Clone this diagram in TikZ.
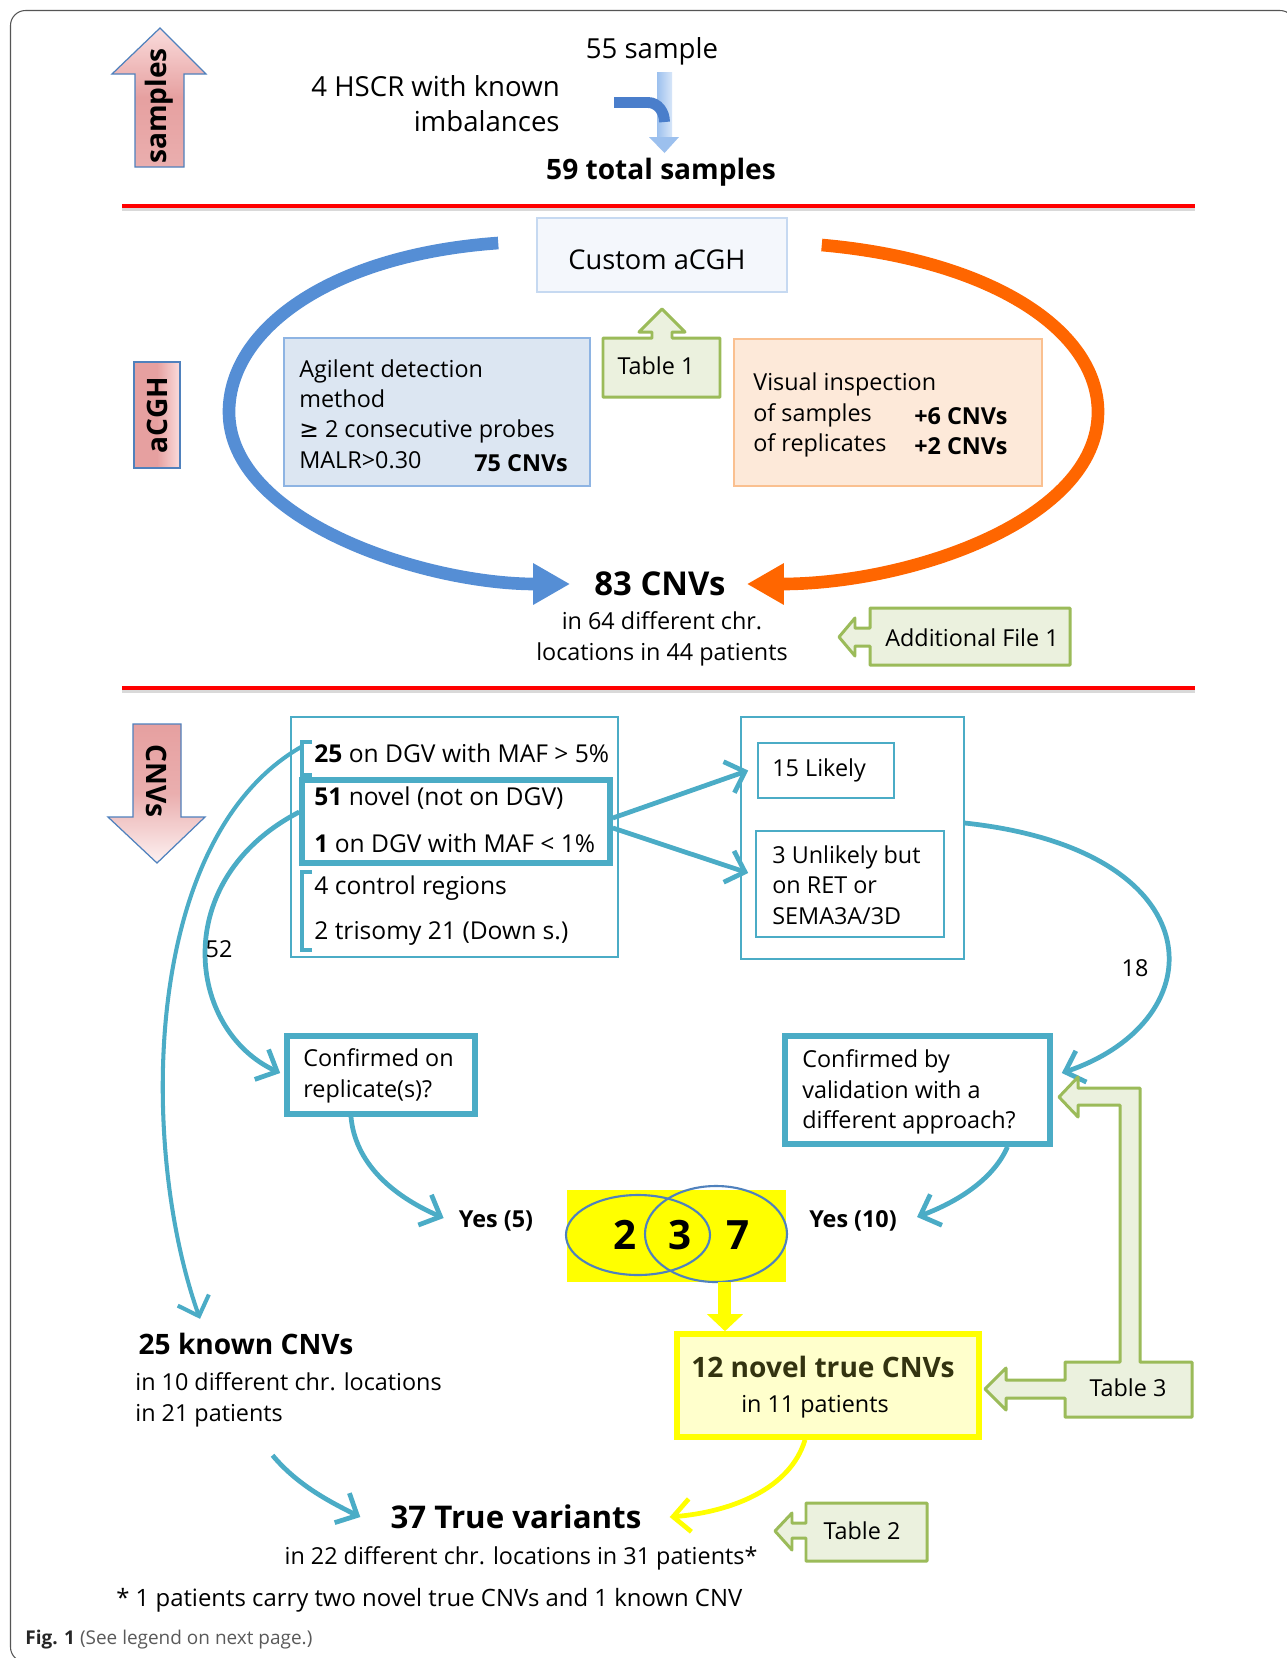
\documentclass[tikz,border=0pt]{standalone}
\usepackage{fontspec}
\setmainfont{Open Sans}
\newfontfamily\simboli{DejaVu Sans}
\usetikzlibrary{arrows.meta,positioning,calc,fit}

\definecolor{azzurro}{HTML}{4BACC6}
\definecolor{bluarco}{HTML}{558ED5}
\definecolor{arancio}{HTML}{FF6600}
\definecolor{verde}{HTML}{9BBB59}
\definecolor{verdechiaro}{HTML}{EBF1DE}
\definecolor{celeste}{HTML}{DCE6F2}
\definecolor{celestebordo}{HTML}{8EB4E3}
\definecolor{customfondo}{HTML}{F4F7FC}
\definecolor{custombordo}{HTML}{C6D9F1}
\definecolor{pesca}{HTML}{FDE9D9}
\definecolor{pescabordo}{HTML}{FAC090}
\definecolor{giallo}{HTML}{FFFF00}
\definecolor{giallochiaro}{HTML}{FFFFCC}
\definecolor{rosa}{HTML}{E6A0A0}
\definecolor{rosachiaro}{HTML}{FADCDC}
\definecolor{bordofreccia}{HTML}{4F81BD}
\definecolor{bluscuro}{HTML}{4A7ECB}
\definecolor{bluchiaro}{HTML}{9CC0EE}
\definecolor{cornice}{HTML}{555555}
\definecolor{oliva}{HTML}{333310}
\definecolor{grigio}{HTML}{5A5A5A}

\tikzset{
  testo/.style={inner sep=0pt, font=\fontsize{13.3}{17.3}\selectfont},
  testocnv/.style={inner sep=0pt, font=\fontsize{14}{17.3}\selectfont},
  grassetto/.style={inner sep=0pt, font=\fontsize{13.3}{17.3}\selectfont\bfseries},
  testotop/.style={inner sep=0pt, font=\fontsize{15.7}{20}\selectfont},
  titolo/.style={inner sep=0pt, font=\fontsize{16}{20}\selectfont\bfseries},
  scatola/.style={draw=azzurro, line width=0.9pt, inner sep=0pt},
  scatolaspessa/.style={draw=azzurro, line width=3.2pt, inner sep=0pt},
  freccia/.style={draw=azzurro, line width=2.7pt, -{Straight Barb[length=0.34cm,width=0.66cm]}},
  frecciagialla/.style={draw=giallo, line width=2.7pt, -{Straight Barb[length=0.34cm,width=0.66cm]}},
  tabella/.style={draw=verde, fill=verdechiaro, line width=1.7pt, line join=round},
  parentesi/.style={draw=azzurro, line width=2.6pt},
  rossa/.style={draw=red, line width=2.3pt}
}

\begin{document}
\begin{tikzpicture}[x=0.02cm, y=-0.02cm]
\useasboundingbox (0,0) rectangle (1287,1658);
\clip (0,0) rectangle (1287,1658);
\fill[white] (0,0) rectangle (1287,1658);
% cornice
\draw[cornice, line width=0.6pt, rounded corners=0.3cm] (10.5,10.5) rectangle (1295,1662);

% linee rosse
\draw[gray!30, line width=1.5pt] (122,209.5) -- (1195,209.5);
\draw[rossa] (122,206) -- (1195,206);
\draw[gray!30, line width=1.5pt] (122,691.5) -- (1195,691.5);
\draw[rossa] (122,688) -- (1195,688);

% frecce laterali
\draw[bordofreccia, line width=0.7pt, top color=rosachiaro, bottom color=rosa!85, middle color=rosa]
  (160,28) -- (206,74) -- (184,74) -- (184,167) -- (135,167) -- (135,74) -- (112,74) -- cycle;
\node[titolo, rotate=90] (samples) at (159,106) {samples};
\node[draw=bordofreccia, line width=0.7pt, inner sep=0pt, fit={(134,362) (180,468)},
  left color=rosa, right color=rosachiaro, middle color=rosa] (acghbox) {};
\node[titolo, rotate=90] (acgh) at (acghbox.center) {aCGH};
\draw[bordofreccia, line width=0.7pt, top color=rosa, bottom color=rosachiaro!40, middle color=rosa!85]
  (133,724) -- (181,724) -- (181,817) -- (205,817) -- (157,863) -- (108,817) -- (133,817) -- cycle;
\node[titolo, rotate=-90] (cnvs) at (157,781) {CNVs};

% campioni
\node[testotop] (n55) at (652,51) {55 sample};
\node[testotop, align=right, anchor=east] (hscr) at (560,104) {4 HSCR with known\\imbalances};
\node[titolo] (tot) at (661,172) {59 total samples};
\shade[left color=bluchiaro, right color=bluchiaro!40] (657,72) rectangle (672,138);
\fill[bluchiaro] (649,137) -- (679,137) -- (664.5,153) -- cycle;
\draw[bluscuro, line width=6.2pt] (614,102.5) -- (648,102.5) to[out=0, in=90] (664.5,122);

% aCGH
\node[inner sep=0pt, fit={(537,218) (787,292)}, draw=custombordo, fill=customfondo, line width=0.9pt] (custom) {};
\node[inner sep=0pt, font=\fontsize{15.5}{18}\selectfont] (customT) at (657,260) {Custom aCGH};

\node[inner sep=0pt, fit={(284,338) (590,486)}, draw=celestebordo, fill=celeste, line width=0.9pt] (agilent) {};
\node[testo, align=left, anchor=west] (agilentT) at (299,414) {Agilent detection\\method\\{\simboli ≥} 2 consecutive probes\\MALR>0.30};
\node[grassetto] (cnv75) at (521,463) {75 CNVs};

\draw[tabella] (603,338) -- (652,338) -- (652,332) -- (639,332) -- (662,309) -- (685,332) -- (672,332)
  -- (672,338) -- (720,338) -- (720,397) -- (603,397) -- cycle;
\node[testo] (tab1) at (656,366) {Table 1};

\node[inner sep=0pt, fit={(734,339) (1042,486)}, draw=pescabordo, fill=pesca, line width=0.9pt] (visual) {};
\node[testo, align=left, anchor=west] (visualT) at (753,415) {Visual inspection\\of samples\\of replicates};
\node[grassetto, align=left, anchor=west] (visualN) at (914,431) {+6 CNVs\\+2 CNVs};

\node[inner sep=0pt, font=\fontsize{18.7}{22}\selectfont\bfseries] (cnv83) at (660,584) {83 CNVs};
\node[testo, align=center] (cnv83T) at (662,639) {in 64 different chr.\\locations in 44 patients};

\draw[bluarco, line width=7.2pt, -{Triangle[length=0.74cm,width=0.78cm]}, shorten >=0.48cm]
  ([xshift=-0.76cm,yshift=0.24cm]custom.west) .. controls +(-169,12) and +(0,-82) .. (229,412)
  .. controls +(0,108) and +(-171,0) .. (cnv83.west);
\draw[arancio, line width=7.2pt, -{Triangle[length=0.74cm,width=0.78cm]}, shorten >=0.42cm]
  ([xshift=0.68cm,yshift=0.2cm]custom.east) .. controls +(169,15) and +(0,-82) .. (1098,412)
  .. controls +(0,108) and +(184,0) .. (cnv83.east);

\draw[tabella] (870,608) -- (1070,608) -- (1070,665) -- (870,665) -- (870,646) -- (855,646) -- (855,656)
  -- (839,637) -- (855,618) -- (855,628) -- (870,628) -- cycle;
\node[testo] (addfile) at (972,638) {Additional File 1};

% CNVs
\node[scatola, fit={(291,717) (618,957)}] (sinistra) {};
\draw[parentesi] (312,742) -- (302,742) -- (302,775) -- (312,775);
\node[scatolaspessa, fit={(302,780) (610,863)}] (novel) {};
\draw[parentesi] (312,872) -- (302,872) -- (302,950) -- (312,950);
\node[testocnv, anchor=west] (dgv25) at (314,753) {\textbf{25} on DGV with MAF > 5\%};
\node[testocnv, anchor=west] (novel51) at (314,798) {\textbf{51} novel (not on DGV)};
\node[testocnv, anchor=west] (dgv1) at (314,843) {\textbf{1} on DGV with MAF < 1\%};
\node[testocnv, anchor=west] (ctrl) at (314,888) {4 control regions};
\node[testocnv, anchor=west] (down) at (314,933) {2 trisomy 21 (Down s.)};

\node[scatola, fit={(741,717) (964,959)}] (destra) {};
\node[scatola, fit={(758,743) (894,798)}] (likely) {};
\node[testo, anchor=west] (likelyT) at (772,770) {15 Likely};
\node[scatola, fit={(756,831) (944,937)}] (unlikely) {};
\node[testo, align=left, anchor=west] (unlikelyT) at (772,885) {3 Unlikely but\\on RET or\\SEMA3A/3D};

\draw[freccia] ([yshift=0.07cm]novel.east) -- ([xshift=-0.18cm]likely.west);
\draw[freccia] ([yshift=-0.13cm]novel.east) -- ([xshift=-0.14cm,yshift=0.22cm]unlikely.west);

\node[scatolaspessa, fit={(287,1036) (475,1114)}] (replicate) {};
\node[testo, align=left, anchor=west] (replicateT) at (303,1076) {Confirmed on\\replicate(s)?};
\node[scatolaspessa, fit={(785,1036) (1050,1144)}] (validation) {};
\node[testo, align=left, anchor=west] (validationT) at (802,1092) {Confirmed by\\validation with a\\different approach?};

\node[titolo] (known25) at (246,1344) {25 known CNVs};
\node[testo, align=left, anchor=west] (known25T) at (135,1400) {in 10 different chr. locations\\in 21 patients};

\draw[freccia, line width=2.3pt] ([xshift=-0.26cm,yshift=0.12cm]dgv25.west) .. controls +(-161,93) and +(-60,-168)
  .. ([xshift=-0.92cm,yshift=0.28cm]known25.north);
\draw[freccia] ([yshift=0.19cm]novel.west) .. controls +(-131,68) and +(-93,-43)
  .. ([xshift=-0.08cm,yshift=0.04cm]replicate.west);
\node[testo] (n52) at (219,949) {52};
\draw[freccia] ([yshift=0.3cm]destra.east) .. controls +(251,27) and +(156,-53)
  .. ([xshift=0.18cm,yshift=0.34cm]validation.east);
\node[testo] (n18) at (1135,968) {18};

\node[grassetto] (yes5) at (496,1221) {Yes (5)};
\node[grassetto] (yes10) at (853,1221) {Yes (10)};
\draw[freccia] ([xshift=-0.6cm]replicate.south) .. controls +(4,45) and +(-53,-23)
  .. ([xshift=-0.3cm,yshift=0.06cm]yes5.west);
\draw[freccia] ([xshift=1.8cm]validation.south) .. controls +(-13,30) and +(45,-17)
  .. ([xshift=0.4cm,yshift=0.08cm]yes10.east);

% diagramma di Venn
\node[inner sep=0pt, fit={(567,1190) (786,1282)}, fill=giallo] (venn) {};
\draw[bordofreccia, line width=1.2pt] (638,1235) ellipse [x radius=72, y radius=40];
\draw[bordofreccia, line width=1.2pt] (716,1234) ellipse [x radius=71, y radius=48];
\node[inner sep=0pt, font=\fontsize{23}{26}\selectfont\bfseries] (v2) at (625,1235) {2};
\node[inner sep=0pt, font=\fontsize{23}{26}\selectfont\bfseries] (v3) at (680,1235) {3};
\node[inner sep=0pt, font=\fontsize{23}{26}\selectfont\bfseries] (v7) at (738,1235) {7};

\node[inner sep=0pt, fit={(677,1334) (979,1437)}, draw=giallo, fill=giallochiaro, line width=3.2pt] (novel12) {};
\node[titolo, text=oliva] (novel12T) at (823,1367) {12 novel true CNVs};
\node[testo] (pazienti11) at (815,1407) {in 11 patients};
\draw[giallo, line width=7.4pt, -{Triangle[length=0.34cm,width=0.7cm]}]
  ([xshift=0.97cm]venn.south) -- ([xshift=0.97cm]venn.south |- novel12.north);

\draw[tabella] (1065,1362) -- (1120,1362) -- (1120,1105) -- (1078,1105) -- (1078,1117) -- (1059,1097)
  -- (1078,1077) -- (1078,1088) -- (1140,1088) -- (1140,1362) -- (1192,1362) -- (1192,1417)
  -- (1065,1417) -- (1065,1398) -- (1006,1398) -- (1006,1410) -- (985,1389) -- (1006,1368)
  -- (1006,1380) -- (1065,1380) -- cycle;
\node[testo] (tab3) at (1128,1388) {Table 3};

% varianti vere
\node[inner sep=0pt, font=\fontsize{17.8}{22}\selectfont\bfseries] (true37) at (516,1517) {37 True variants};
\node[testo] (true37T) at (521,1558) {in 22 different chr. locations in 31 patients*};
\draw[freccia] ([xshift=-0.32cm,yshift=-0.56cm]known25T.south) .. controls +(25,30) and +(-30,-15)
  .. ([xshift=-0.6cm]true37.west);
\draw[frecciagialla] ([xshift=-0.46cm]novel12.south) .. controls +(-15,50) and +(60,-5)
  .. ([xshift=0.56cm]true37.east);

\draw[tabella] (806,1503) -- (927,1503) -- (927,1561) -- (806,1561) -- (806,1538) -- (792,1538)
  -- (792,1550) -- (775,1531) -- (792,1513) -- (792,1523) -- (806,1523) -- cycle;
\node[testo] (tab2) at (862,1531) {Table 2};

\node[testo, anchor=west, font=\fontsize{13.6}{17}\selectfont] (nota) at (116,1600) {* 1 patients carry two novel true CNVs and 1 known CNV};
\node[inner sep=0pt, anchor=west, font=\fontsize{10.8}{13}\selectfont, text=grigio] (didascalia) at (25,1640)
  {\textcolor{black!85}{\textbf{Fig. 1}} (See legend on next page.)};
\end{tikzpicture}
\end{document}
